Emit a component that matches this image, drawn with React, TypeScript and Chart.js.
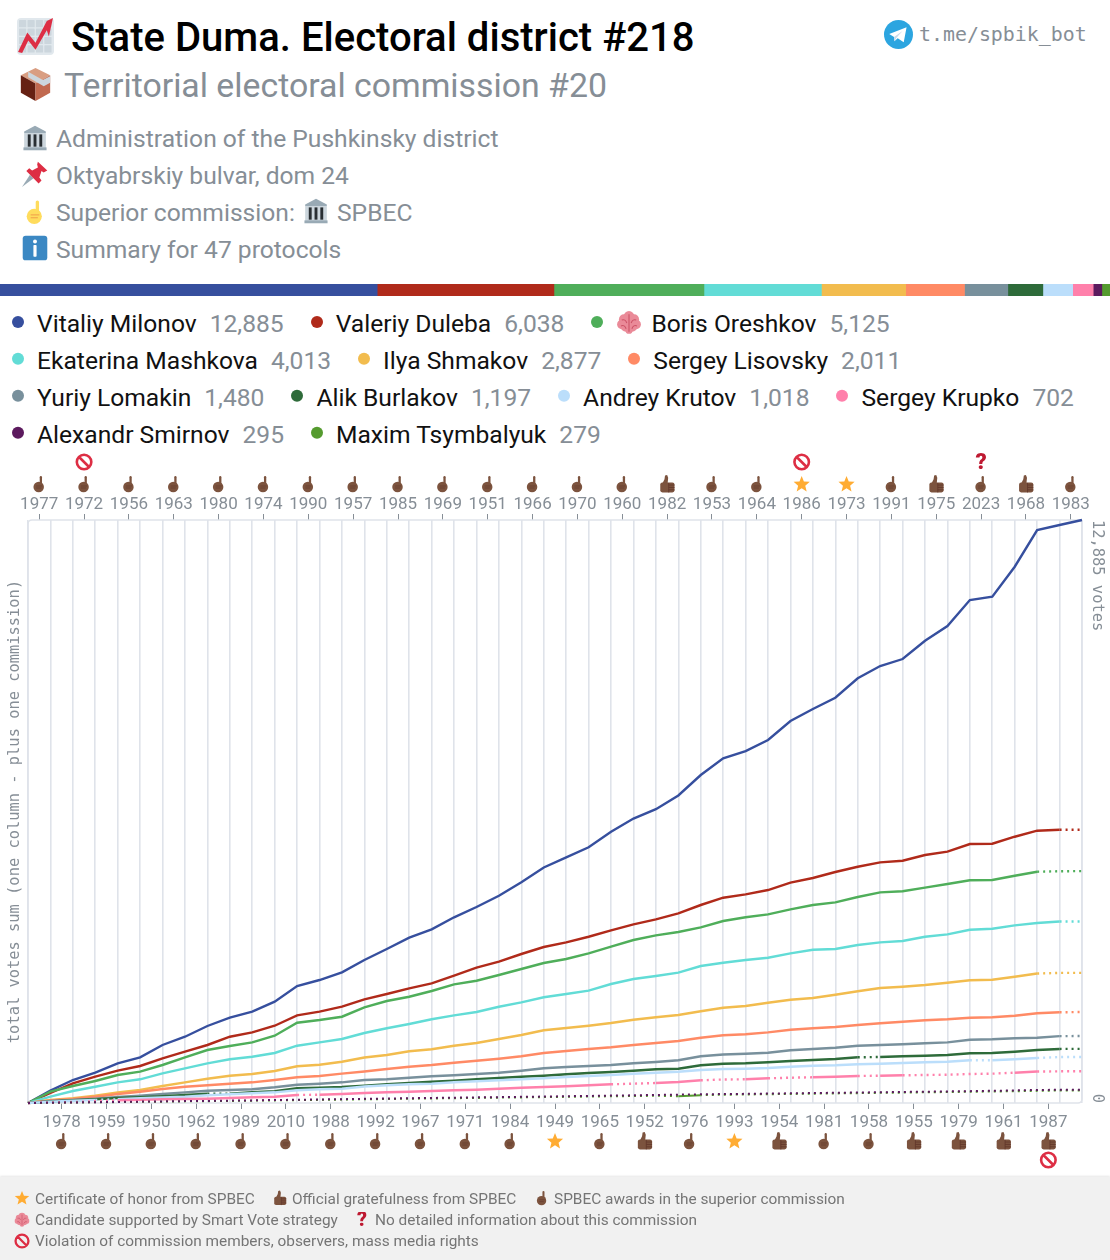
import React, { useEffect, useRef } from "react";
import { Chart, registerables } from "chart.js";

Chart.register(...registerables);

const candidateNames = ["Vitaliy Milonov", "Valeriy Duleba", "Boris Oreshkov", "Ekaterina Mashkova", "Ilya Shmakov", "Sergey Lisovsky", "Yuriy Lomakin", "Alik Burlakov", "Andrey Krutov", "Sergey Krupko", "Alexandr Smirnov", "Maxim Tsymbalyuk"];
const candidateVotes = [12885, 6038, 5125, 4013, 2877, 2011, 1480, 1197, 1018, 702, 295, 279];
const candidateColors = ["#364f9e", "#b02a1a", "#4fae5a", "#62dcd6", "#f2bc4e", "#ff8a65", "#78909c", "#2e6b3a", "#bbdefb", "#ff80ab", "#5c1a5e", "#559b2f"];
const legendRows = [3, 3, 4, 2];

const milonov = [0, 272, 508, 670, 877, 1010, 1282, 1465, 1702, 1885, 2018, 2239, 2586, 2718, 2888, 3160, 3403, 3653, 3839, 4104, 4332, 4581, 4877, 5205, 5430, 5651, 5996, 6287, 6493, 6796, 7249, 7618, 7779, 8022, 8442, 8707, 8957, 9386, 9658, 9812, 10217, 10542, 11116, 11189, 11852, 12663, 12774, 12885];
const duleba = [0, 221, 435, 581, 714, 818, 988, 1134, 1282, 1465, 1562, 1708, 1938, 2018, 2128, 2292, 2409, 2535, 2645, 2813, 2990, 3123, 3293, 3448, 3551, 3675, 3817, 3949, 4060, 4192, 4376, 4537, 4612, 4707, 4869, 4973, 5105, 5222, 5319, 5355, 5481, 5554, 5724, 5730, 5885, 6018, 6038, 6038];
const oreshkov = [0, 250, 376, 486, 619, 692, 840, 1010, 1171, 1260, 1341, 1487, 1775, 1834, 1907, 2115, 2254, 2349, 2475, 2623, 2703, 2829, 2961, 3094, 3182, 3308, 3454, 3602, 3706, 3779, 3883, 4022, 4104, 4170, 4281, 4376, 4435, 4553, 4656, 4679, 4759, 4840, 4922, 4928, 5023, 5112, 5122, 5125];
const mashkova = [0, 139, 265, 360, 457, 524, 656, 767, 877, 966, 1023, 1105, 1266, 1341, 1414, 1547, 1651, 1746, 1850, 1938, 2011, 2128, 2225, 2336, 2409, 2482, 2630, 2740, 2807, 2880, 3028, 3101, 3160, 3211, 3308, 3388, 3403, 3492, 3551, 3580, 3675, 3728, 3830, 3852, 3927, 3978, 4010, 4013];
const shmakov = [0, 66, 104, 161, 236, 287, 376, 457, 537, 603, 641, 707, 811, 846, 913, 1006, 1061, 1143, 1187, 1266, 1326, 1414, 1503, 1607, 1658, 1708, 1768, 1841, 1894, 1945, 2027, 2106, 2144, 2217, 2283, 2321, 2393, 2469, 2542, 2570, 2608, 2659, 2712, 2725, 2791, 2862, 2875, 2877];
const lisovsky = [0, 55, 88, 139, 199, 250, 309, 360, 391, 427, 457, 508, 568, 597, 648, 696, 751, 802, 840, 891, 935, 979, 1032, 1105, 1149, 1193, 1231, 1282, 1326, 1370, 1443, 1498, 1518, 1562, 1620, 1651, 1680, 1724, 1761, 1797, 1828, 1850, 1885, 1894, 1929, 1982, 2005, 2011];
const lomakin = [0, 44, 66, 95, 133, 161, 199, 236, 272, 287, 303, 347, 404, 427, 457, 508, 524, 559, 590, 612, 641, 670, 714, 767, 796, 818, 840, 877, 906, 944, 1032, 1072, 1090, 1112, 1165, 1193, 1222, 1266, 1282, 1297, 1319, 1341, 1399, 1408, 1430, 1443, 1478, 1480];
const burlakov = [0, 33, 60, 82, 110, 126, 148, 177, 203, 205, 236, 259, 325, 338, 354, 382, 413, 442, 471, 493, 524, 553, 581, 603, 634, 663, 685, 714, 745, 758, 833, 866, 877, 899, 928, 950, 972, 1010, 1017, 1032, 1045, 1061, 1098, 1105, 1134, 1171, 1195, 1197];
const krutov = [0, 29, 51, 66, 82, 104, 122, 139, 170, 192, 214, 236, 281, 303, 316, 365, 391, 413, 427, 457, 480, 502, 524, 546, 575, 597, 619, 648, 670, 692, 729, 751, 758, 774, 802, 824, 833, 855, 869, 884, 899, 912, 944, 946, 966, 995, 1015, 1018];
const krupko = [0, 11, 22, 38, 60, 69, 82, 88, 95, 110, 126, 139, 177, 183, 199, 221, 236, 250, 265, 281, 294, 316, 338, 354, 369, 391, 413, 427, 442, 464, 502, 519, 524, 546, 559, 568, 581, 597, 603, 612, 619, 625, 641, 648, 670, 695, 700, 702];
const smirnov = [0, 6, 12, 18, 24, 30, 36, 42, 46, 52, 58, 66, 72, 78, 84, 92, 98, 106, 112, 118, 124, 130, 136, 142, 150, 156, 164, 170, 178, 184, 192, 198, 202, 208, 214, 220, 226, 232, 238, 244, 250, 256, 262, 270, 278, 288, 292, 295];
const tsymbalyuk = [0, 5, 10, 15, 20, 25, 30, 36, 40, 45, 52, 58, 64, 70, 76, 82, 88, 94, 100, 106, 112, 118, 124, 130, 136, 142, 148, 154, 160, 150, 172, 182, 188, 194, 200, 206, 212, 218, 224, 230, 236, 242, 248, 254, 260, 268, 276, 279];
const seriesValues = [milonov, duleba, oreshkov, mashkova, shmakov, lisovsky, lomakin, burlakov, krutov, krupko, smirnov, tsymbalyuk];

// protocols that are missing for a candidate: the segment starting at this index is dotted
const allButOne = milonov.map((_, i) => i).filter((i) => i !== 29 && i < 47);
const dottedSegments = [
  [],
  [46],
  [45, 46],
  [46],
  [45, 46],
  [46],
  [46],
  [8, 37, 46],
  [3, 42, 45, 46],
  [0, 1, 2, 3, 12, 26, 27, 30, 31, 33, 34, 37, 39, 40, 41, 42, 43, 45, 46],
  milonov.map((_, i) => i),
  allButOne,
];

const topCommissions = ["1977", "1972", "1956", "1963", "1980", "1974", "1990", "1957", "1985", "1969", "1951", "1966", "1970", "1960", "1982", "1953", "1964", "1986", "1973", "1991", "1975", "2023", "1968", "1983"];
const topAwards = ["point", "point", "point", "point", "point", "point", "point", "point", "point", "point", "point", "point", "point", "point", "thumb", "point", "point", "star", "star", "point", "thumb", "point", "thumb", "point"];
const topFlags = ["", "ban", "", "", "", "", "", "", "", "", "", "", "", "", "", "", "", "ban", "", "", "", "question", "", ""];
const bottomCommissions = ["1978", "1959", "1950", "1962", "1989", "2010", "1988", "1992", "1967", "1971", "1984", "1949", "1965", "1952", "1976", "1993", "1954", "1981", "1958", "1955", "1979", "1961", "1987"];
const bottomAwards = ["point", "point", "point", "point", "point", "point", "point", "point", "point", "point", "point", "star", "point", "thumb", "point", "star", "thumb", "point", "point", "thumb", "thumb", "thumb", "thumb"];
const bottomFlags = ["", "", "", "", "", "", "", "", "", "", "", "", "", "", "", "", "", "", "", "", "", "", "ban"];

const GRAY = "#868e96";
const FOOT = "#757575";
const MONO = '"DejaVu Sans Mono"';
const MONO_SIZE = 15.4;

type Ctx = CanvasRenderingContext2D;

function rr(c: Ctx, x: number, y: number, w: number, h: number, r: number, color: string) {
  c.fillStyle = color;
  c.beginPath();
  c.roundRect(x, y, w, h, r);
  c.fill();
}
function poly(c: Ctx, pts: number[][], color: string) {
  c.fillStyle = color;
  c.beginPath();
  pts.forEach((p, i) => (i ? c.lineTo(p[0], p[1]) : c.moveTo(p[0], p[1])));
  c.closePath();
  c.fill();
}
function disc(c: Ctx, x: number, y: number, r: number, color: string) {
  c.fillStyle = color;
  c.beginPath();
  c.arc(x, y, r, 0, Math.PI * 2);
  c.fill();
}
function fist(c: Ctx, main: string, dark: string) {
  disc(c, 17, 24, 10.5, main);
  rr(c, 19, 2, 4.6, 20, 2.3, main);
  c.strokeStyle = dark;
  c.lineWidth = 1.2;
  c.beginPath();
  c.moveTo(12, 22);
  c.lineTo(24, 22);
  c.moveTo(12, 26);
  c.lineTo(22, 26);
  c.stroke();
}

// All drawn in a 36 x 36 box.
const iconPainters: Record<string, (c: Ctx) => void> = {
  point: (c) => fist(c, "#7c533e", "#60352a"),
  pointYellow: (c) => fist(c, "#ffdc5d", "#ee9547"),
  thumb: (c) => {
    rr(c, 5, 15, 27, 19, 4, "#7c533e");
    poly(c, [[9, 17], [13, 9], [14, 2], [18, 1], [20, 6], [19, 16]], "#7c533e");
    c.strokeStyle = "#60352a";
    c.lineWidth = 1.5;
    c.beginPath();
    for (const y of [20, 24.5, 29]) {
      c.moveTo(21, y);
      c.lineTo(32, y);
    }
    c.moveTo(21, 16);
    c.lineTo(21, 34);
    c.stroke();
  },
  star: (c) => {
    const pts: number[][] = [];
    for (let i = 0; i < 10; i++) {
      const r = i % 2 ? 7.5 : 17;
      const a = -Math.PI / 2 + (i * Math.PI) / 5;
      pts.push([18 + r * Math.cos(a), 19 + r * Math.sin(a)]);
    }
    poly(c, pts, "#ffac33");
  },
  ban: (c) => {
    c.strokeStyle = "#dd2e44";
    c.lineWidth = 5.2;
    c.beginPath();
    c.arc(18, 18, 14.5, 0, Math.PI * 2);
    c.moveTo(8, 8);
    c.lineTo(28, 28);
    c.stroke();
  },
  question: (c) => {
    c.fillStyle = "#be1931";
    c.font = "900 44px Roboto";
    c.textAlign = "center";
    c.textBaseline = "middle";
    c.fillText("?", 18, 20);
  },
  info: (c) => {
    rr(c, 1, 1, 34, 34, 4, "#3b88c3");
    disc(c, 18, 9, 2.7, "#fff");
    rr(c, 15.8, 14, 4.4, 16, 1, "#fff");
  },
  chart: (c) => {
    rr(c, 0, 0, 36, 36, 4, "#e1e8ed");
    for (let i = 0; i < 4; i++) for (let j = 0; j < 4; j++) rr(c, 2 + i * 8.2, 2 + j * 8.2, 7, 7, 0.6, "#ccd6dd");
    poly(c, [[1, 33], [10, 14], [18, 24], [29, 3], [35, 0], [31, 18], [29, 12], [18, 31], [11, 22], [5, 34]], "#dd2e44");
  },
  box: (c) => {
    poly(c, [[18, 0], [34, 8], [18, 17], [2, 8]], "#d99e82");
    poly(c, [[2, 8], [18, 17], [18, 36], [2, 27]], "#662113");
    poly(c, [[34, 8], [18, 17], [18, 36], [34, 27]], "#c1694f");
    poly(c, [[10, 4], [26, 13], [34, 9], [34, 16], [27, 20], [10, 10]], "#ccd6dd");
  },
  building: (c) => {
    poly(c, [[18, 1], [33, 9], [33, 11], [3, 11], [3, 9]], "#99aab5");
    rr(c, 3, 11, 30, 23, 0, "#ccd6dd");
    rr(c, 2, 31, 32, 4, 0, "#99aab5");
    for (const x of [8, 16, 24]) rr(c, x, 13, 4, 17, 0, "#292f33");
  },
  pin: (c) => {
    poly(c, [[0, 36], [11, 19], [16, 24]], "#99aab5");
    poly(c, [[22, 1], [35, 13], [30, 16], [27, 14], [24, 23], [27, 27], [23, 31], [6, 14], [10, 10], [14, 13], [22, 9], [21, 5]], "#dd2e44");
  },
  brain: (c) => {
    for (const [x, y, r] of [[11, 13, 7], [18, 9, 7.5], [25, 13, 7], [8, 20, 6.5], [28, 20, 6.5], [14, 22, 8], [22, 22, 8], [18, 28, 5]]) disc(c, x, y, r, "#ea8a98");
    c.strokeStyle = "#cc5266";
    c.lineWidth = 1.5;
    c.beginPath();
    c.moveTo(18, 6);
    c.lineTo(18, 30);
    c.moveTo(8, 14);
    c.quadraticCurveTo(13, 12, 15, 18);
    c.moveTo(28, 14);
    c.quadraticCurveTo(23, 12, 21, 18);
    c.moveTo(7, 22);
    c.quadraticCurveTo(12, 20, 14, 26);
    c.moveTo(29, 22);
    c.quadraticCurveTo(24, 20, 22, 26);
    c.stroke();
  },
  telegram: (c) => {
    disc(c, 18, 18, 18, "#2ca5e0");
    poly(c, [[6.5, 17.5], [28, 9], [24.5, 27.5], [17, 22.5], [13, 26.5], [12.5, 21]], "#fff");
    poly(c, [[12.5, 21], [23, 13.5], [15.5, 22], [13, 26.5]], "#c8daea");
  },
};

function paintIcon(c: Ctx, kind: string, cx: number, cy: number, size: number) {
  c.save();
  c.translate(cx - size / 2, cy - size / 2);
  c.scale(size / 36, size / 36);
  iconPainters[kind](c);
  c.restore();
}

function Icon({ kind, size, x, cy }: { kind: string; size: number; x: number; cy: number }) {
  const ref = useRef<HTMLCanvasElement>(null);
  useEffect(() => {
    const c = ref.current!.getContext("2d")!;
    c.clearRect(0, 0, size, size);
    paintIcon(c, kind, size / 2, size / 2, size);
  }, [kind, size]);
  return <canvas ref={ref} width={size} height={size} style={{ position: "absolute", left: x, top: cy - size / 2 }} />;
}

function Line({ x, cy, size, color, weight, mono, children }: any) {
  return (
    <div style={{ position: "absolute", left: x, top: cy, transform: "translateY(-50%)", fontSize: size, color, fontWeight: weight || 400, fontFamily: mono ? MONO : "Roboto", lineHeight: 1, whiteSpace: "nowrap" }}>
      {children}
    </div>
  );
}

const overlayPlugin = {
  id: "overlay",
  beforeDatasetsDraw(chart: any) {
    const { ctx, chartArea: a } = chart;
    ctx.save();
    ctx.strokeStyle = "#dfe3ea";
    ctx.lineWidth = 1.6;
    ctx.beginPath();
    ctx.roundRect(a.left, a.top, a.right - a.left, a.bottom - a.top, 4);
    ctx.stroke();
    ctx.restore();
  },
  afterDraw(chart: any) {
    const { ctx, scales } = chart;
    scales.xTop.ticks.forEach((t: any, i: number) => {
      const x = scales.xTop.getPixelForValue(t.value);
      paintIcon(ctx, topAwards[i], x, scales.xTop.bottom - 36, topAwards[i] === "thumb" ? 19 : 18);
      if (topFlags[i]) paintIcon(ctx, topFlags[i], x, scales.xTop.bottom - 58, 18);
    });
    scales.xBottom.ticks.forEach((t: any, i: number) => {
      const x = scales.xBottom.getPixelForValue(t.value);
      paintIcon(ctx, bottomAwards[i], x, scales.xBottom.top + 38, bottomAwards[i] === "thumb" ? 19 : 18);
      if (bottomFlags[i]) paintIcon(ctx, bottomFlags[i], x, scales.xBottom.top + 57, 18);
    });
    const right = chart.chartArea.right + 15;
    ctx.save();
    ctx.font = `${MONO_SIZE}px ${MONO}`;
    ctx.fillStyle = GRAY;
    ctx.textBaseline = "middle";
    ctx.translate(right, scales.y.getPixelForValue(candidateVotes[0]));
    ctx.rotate(Math.PI / 2);
    ctx.textAlign = "left";
    ctx.fillText(`${candidateVotes[0].toLocaleString("en-US")} votes`, 0, 0);
    ctx.restore();
    ctx.save();
    ctx.font = `${MONO_SIZE}px ${MONO}`;
    ctx.fillStyle = GRAY;
    ctx.textBaseline = "middle";
    ctx.translate(right, scales.y.getPixelForValue(0));
    ctx.rotate(Math.PI / 2);
    ctx.textAlign = "right";
    ctx.fillText("0", 0, 0);
    ctx.restore();
  },
};

const tickScale = (position: string, labels: string[], first: number, height: number, padding: number) => ({
  type: "linear",
  position,
  min: 0,
  max: seriesValues[0].length - 1,
  afterBuildTicks: (s: any) => {
    s.ticks = labels.map((_, k) => ({ value: first + 2 * k }));
  },
  afterFit: (s: any) => {
    s.height = height;
    s.paddingLeft = 0;
    s.paddingRight = 0;
  },
  grid: { drawOnChartArea: false, drawTicks: true, tickLength: 6, tickColor: GRAY, tickWidth: 1 },
  border: { display: false },
  ticks: {
    autoSkip: false,
    maxRotation: 0,
    minRotation: 0,
    padding,
    color: GRAY,
    font: { family: "Roboto", size: 17 },
    callback: (_: any, i: number) => labels[i],
  },
});

export default function App() {
  const mainRef = useRef<HTMLCanvasElement>(null);
  const barRef = useRef<HTMLCanvasElement>(null);

  useEffect(() => {
    const main = new Chart(mainRef.current!, {
      type: "line",
      data: {
        labels: milonov.map((_, i) => i),
        datasets: seriesValues.map((values, i) => ({
          label: candidateNames[i],
          data: values,
          xAxisID: "x",
          yAxisID: "y",
          borderColor: candidateColors[i],
          borderWidth: i >= 10 ? 2 : 2.4,
          pointRadius: 0,
          tension: 0,
          clip: false,
          order: i === 10 ? 0 : 12 - i,
          segment: {
            borderDash: (ctx: any) => (dottedSegments[i].includes(ctx.p0DataIndex) ? [2, 4] : undefined),
            borderDashOffset: (ctx: any) => (i === 11 && ctx.p0DataIndex >= 30 ? 1 : 0),
          },
        })),
      },
      options: {
        animation: false,
        responsive: false,
        events: [],
        layout: { padding: { left: 0, right: 28, top: 0, bottom: 0 } },
        plugins: { legend: { display: false }, tooltip: { enabled: false } },
        scales: {
          x: {
            type: "linear",
            position: "bottom",
            min: 0,
            max: milonov.length - 1,
            afterFit: (s: any) => {
              s.height = 0;
              s.paddingLeft = 0;
              s.paddingRight = 0;
            },
            grid: { color: "#dfe3ea", lineWidth: 1.6, drawTicks: false },
            border: { display: false },
            ticks: { display: false, stepSize: 1, autoSkip: false, maxTicksLimit: 100 },
          },
          xTop: tickScale("top", topCommissions, 0.5, 70, -1),
          xBottom: tickScale("bottom", bottomCommissions, 1.5, 72, 4),
          y: {
            type: "linear",
            position: "left",
            min: 0,
            max: candidateVotes[0],
            afterFit: (s: any) => {
              s.width = 28;
            },
            grid: { display: false },
            border: { display: false },
            ticks: { display: false },
            title: {
              display: true,
              text: "total votes sum (one column - plus one commission)",
              color: GRAY,
              font: { family: MONO, size: MONO_SIZE },
              padding: { top: 6, bottom: 0 },
            },
          },
        },
      } as any,
      plugins: [overlayPlugin],
    } as any);

    const share = new Chart(barRef.current!, {
      type: "bar",
      data: {
        labels: ["votes"],
        datasets: candidateVotes.map((v, i) => ({
          label: candidateNames[i],
          data: [v],
          backgroundColor: candidateColors[i],
          barPercentage: 1,
          categoryPercentage: 1,
          borderWidth: 0,
        })),
      },
      options: {
        indexAxis: "y",
        animation: false,
        responsive: false,
        events: [],
        plugins: { legend: { display: false }, tooltip: { enabled: false } },
        scales: {
          x: { display: false, stacked: true, min: 0, max: candidateVotes.reduce((a, b) => a + b, 0) },
          y: { display: false, stacked: true },
        },
      } as any,
    } as any);

    return () => {
      main.destroy();
      share.destroy();
    };
  }, []);

  let nextItem = 0;
  const rows = legendRows.map((count) => {
    const row = candidateNames.slice(nextItem, nextItem + count).map((name, k) => ({ name, idx: nextItem + k }));
    nextItem += count;
    return row;
  });

  return (
    <div style={{ position: "relative", width: 1110, height: 1260, overflow: "hidden", background: "#fff", fontFamily: "Roboto" }}>
      <style>{`html,body{margin:0;padding:0;background:#fff}`}</style>

      <Icon kind="chart" size={37} x={17} cy={36} />
      <Line x={71} cy={38} size={40.05} color="#000" weight={500}>State Duma. Electoral district #218</Line>
      <Icon kind="telegram" size={29} x={884} cy={34} />
      <Line x={919} cy={35} size={19.9} color={GRAY} mono>t.me/spbik_bot</Line>

      <Icon kind="box" size={33} x={19} cy={84} />
      <Line x={64} cy={85.5} size={33.85} color={GRAY}>Territorial electoral commission #20</Line>

      <Icon kind="building" size={26} x={22} cy={138} />
      <Line x={56} cy={139} size={24.62} color={GRAY}>Administration of the Pushkinsky district</Line>
      <Icon kind="pin" size={26} x={22} cy={174} />
      <Line x={56} cy={176} size={24.62} color={GRAY}>Oktyabrskiy bulvar, dom 24</Line>
      <Icon kind="pointYellow" size={26} x={22} cy={212} />
      <Line x={56} cy={213} size={24.62} color={GRAY}>Superior commission:</Line>
      <Icon kind="building" size={26} x={303} cy={211} />
      <Line x={337} cy={213} size={24.62} color={GRAY}>SPBEC</Line>
      <Icon kind="info" size={26} x={22} cy={248} />
      <Line x={56} cy={250} size={24.62} color={GRAY}>Summary for 47 protocols</Line>

      <canvas ref={barRef} width={1110} height={12} style={{ position: "absolute", left: 0, top: 284, display: "block" }} />

      {rows.map((row, r) => (
        <div key={r} style={{ position: "absolute", left: 12, top: 324 + r * 37, transform: "translateY(-50%)", display: "flex", alignItems: "center", whiteSpace: "nowrap", fontSize: 24.62, lineHeight: 1 }}>
          {row.map(({ name, idx }) => (
            <div key={name} style={{ display: "flex", alignItems: "center", marginRight: 27 }}>
              <span style={{ width: 12, height: 12, borderRadius: 6, background: candidateColors[idx], marginRight: 13, marginTop: -4, flex: "none" }} />
              {name === "Boris Oreshkov" && (
                <span style={{ position: "relative", width: 26, height: 26, marginRight: 9, flex: "none" }}>
                  <Icon kind="brain" size={26} x={0} cy={12} />
                </span>
              )}
              <span style={{ color: "#111" }}>{name}</span>
              <span style={{ color: GRAY, marginLeft: 13 }}>{candidateVotes[idx].toLocaleString("en-US")}</span>
            </div>
          ))}
        </div>
      ))}

      <canvas ref={mainRef} width={1110} height={725} style={{ position: "absolute", left: 0, top: 450, display: "block" }} />

      <div style={{ position: "absolute", left: 0, top: 1177, width: 1110, height: 83, background: "#f1f1f1", boxShadow: "0 -1px 2px rgba(0,0,0,0.1)" }} />
      <Icon kind="star" size={16} x={14} cy={1198} />
      <Line x={35} cy={1199.5} size={15.4} color={FOOT}>Certificate of honor from SPBEC</Line>
      <Icon kind="thumb" size={16} x={272} cy={1198} />
      <Line x={292} cy={1199.5} size={15.4} color={FOOT}>Official gratefulness from SPBEC</Line>
      <Icon kind="point" size={16} x={534} cy={1198} />
      <Line x={554} cy={1199.5} size={15.4} color={FOOT}>SPBEC awards in the superior commission</Line>
      <Icon kind="brain" size={16} x={14} cy={1220} />
      <Line x={35} cy={1220.5} size={15.4} color={FOOT}>Candidate supported by Smart Vote strategy</Line>
      <Icon kind="question" size={16} x={354} cy={1220} />
      <Line x={375} cy={1220.5} size={15.4} color={FOOT}>No detailed information about this commission</Line>
      <Icon kind="ban" size={16} x={14} cy={1241} />
      <Line x={35} cy={1241.5} size={15.4} color={FOOT}>Violation of commission members, observers, mass media rights</Line>
    </div>
  );
}
